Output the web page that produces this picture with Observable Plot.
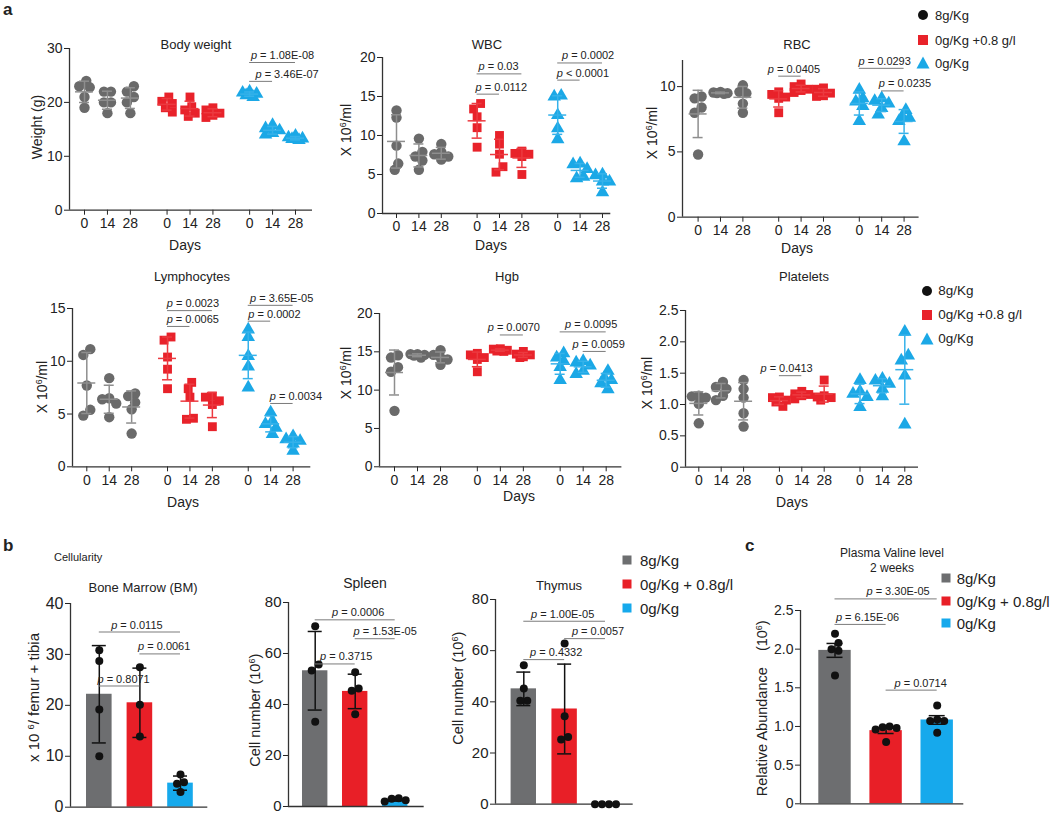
<!DOCTYPE html>
<html><head><meta charset="utf-8">
<script src="https://cdn.jsdelivr.net/npm/d3@7"></script>
<script src="https://cdn.jsdelivr.net/npm/@observablehq/plot@0.6"></script>
<style>
body{margin:0;background:#fff;font-family:"Liberation Sans",Arial,sans-serif;color:#222;}
#fig{position:relative;width:1050px;height:814px;overflow:hidden;background:#fff;}
.lab{position:absolute;white-space:nowrap;line-height:1;color:#222;}
.lab sup{font-size:0.62em;vertical-align:0.55em;line-height:0;}
</style></head>
<body><div id="fig"></div>
<script>
// ---------------- data ----------------
const groupNames = ["8g/Kg", "0g/Kg +0.8 g/l", "0g/Kg"];
const barGroupNames = ["8g/Kg", "0g/Kg + 0.8g/l", "0g/Kg"];
const days = [0, 14, 28];

// [group][day] -> individual mice
const bodyWeight = [
  [[24, 23, 22.8, 21, 19], [22, 22, 20, 20, 18], [23, 22, 21, 20, 18]],
  [[21, 20.2, 19.8, 19, 18.2], [21, 19.2, 18.6, 18, 17.4], [19, 18.6, 18, 17.6, 17.2]],
  [[22, 21.8, 21.6, 21.3, 21], [15.8, 15.2, 14.8, 14.3, 14], [13.8, 13.5, 13.3, 13.2, 13]]
];
const wbc = [
  [[13.2, 12.3, 8.7, 6.4, 5.6], [9.6, 7.9, 7.3, 6.8, 5.6], [8.9, 7.9, 7.6, 7.3, 6.9]],
  [[14.1, 13.4, 12.4, 11.0, 8.5], [10.0, 8.9, 7.6, 6.0, 5.3], [8.0, 7.7, 7.6, 7.3, 5.0]],
  [[15.1, 15.0, 12.6, 10.9, 9.5], [6.3, 6.4, 5.7, 4.7, 4.5], [5.0, 4.9, 4.1, 4.1, 2.7]]
];
const rbc = [
  [[9.24, 9.1, 8.4, 8.0, 4.8], [9.6, 9.55, 9.5, 9.5, 9.45], [10.1, 9.6, 9.5, 8.7, 8.0]],
  [[9.6, 9.4, 9.2, 9.1, 8.0], [10.2, 10.0, 9.8, 9.7, 9.55], [9.9, 9.8, 9.5, 9.3, 9.25]],
  [[9.75, 9.1, 8.85, 8.5, 7.35], [9.1, 8.9, 8.7, 8.35, 7.85], [8.2, 7.7, 7.6, 7.35, 5.8]]
];
const lymphocytes = [
  [[11.15, 10.6, 7.7, 5.4, 4.85], [8.4, 6.5, 6.4, 6.0, 4.7], [6.95, 6.7, 6.1, 5.45, 3.15]],
  [[12.3, 12.0, 10.4, 9.25, 7.4], [8.0, 7.4, 6.6, 4.6, 4.5], [6.7, 6.6, 6.25, 5.9, 3.8]],
  [[13.0, 12.3, 10.5, 9.5, 7.5], [5.15, 4.35, 4.05, 3.7, 3.1], [2.9, 2.6, 2.45, 2.2, 1.5]]
];
const hgb = [
  [[14.55, 14.25, 13.0, 12.4, 7.3], [14.7, 14.7, 14.6, 14.5, 14.25], [15.2, 14.6, 14.25, 14.0, 13.3]],
  [[14.8, 14.6, 14.25, 14.0, 12.4], [15.4, 15.35, 15.2, 15.1, 15.05], [15.05, 14.7, 14.6, 14.35, 14.25]],
  [[14.8, 14.25, 13.8, 13.0, 11.3], [13.8, 13.6, 13.2, 12.5, 12.1], [12.5, 11.65, 11.3, 10.9, 10.1]]
];
const platelets = [
  [[1.14, 1.13, 1.11, 1.01, 0.70], [1.36, 1.28, 1.25, 1.14, 1.07], [1.39, 1.25, 1.11, 0.86, 0.65]],
  [[1.12, 1.11, 1.07, 1.04, 0.97], [1.21, 1.17, 1.16, 1.14, 1.09], [1.39, 1.14, 1.12, 1.11, 1.07]],
  [[1.39, 1.21, 1.17, 1.12, 0.96], [1.41, 1.38, 1.33, 1.25, 1.13], [2.16, 1.78, 1.70, 1.46, 0.68]]
];

// [group] -> individual mice
const boneMarrow = [[30.8, 28.7, 19.2, 10.0], [27.5, 20.1, 13.9], [6.4, 4.9, 4.6, 3.0]];
const spleen = [[70.7, 55.7, 53.3, 33.2], [52.6, 46.3, 45.4, 36.2], [2.0, 3.2, 2.4, 3.0]];
const thymus = [[54.3, 45.2, 40.4, 40.4], [62.8, 34.4, 25.3, 26.3], [0, 0, 0, 0]];
const valine = [[2.2, 2.08, 2.0, 1.98, 1.66], [1.0, 0.99, 0.98, 0.96, 0.80], [1.27, 1.09, 1.07, 1.07, 0.92]];

// significance annotations (from/to = [group, dayIndex] or group index; y in data units)
const bodyWeightP = [
  {label: "p = 1.08E-08", from: [2, 0], to: [2, 2], y: 27.4, dx: 10},
  {label: "p = 3.46E-07", from: [2, 0], to: [2, 1], y: 23.9, dx: 26}
];
const wbcP = [
  {label: "p = 0.03", from: [1, 0], to: [1, 2], y: 17.9, dx: -1},
  {label: "p = 0.0112", from: [1, 0], to: [1, 1], y: 15.3, dx: 13},
  {label: "p = 0.0002", from: [2, 0], to: [2, 2], y: 19.3, dx: 8},
  {label: "p < 0.0001", from: [2, 0], to: [2, 1], y: 17.1, dx: 14}
];
const rbcP = [
  {label: "p = 0.0405", from: [1, 0], to: [1, 1], y: 10.8, dx: 4},
  {label: "p = 0.0293", from: [2, 0], to: [2, 2], y: 11.4, dx: 3},
  {label: "p = 0.0235", from: [2, 1], to: [2, 2], y: 9.67, dx: 12}
];
const lymphocytesP = [
  {label: "p = 0.0023", from: [1, 0], to: [1, 2], y: 14.8, dx: 3},
  {label: "p = 0.0065", from: [1, 0], to: [1, 1], y: 13.3, dx: 14},
  {label: "p = 3.65E-05", from: [2, 0], to: [2, 2], y: 15.3, dx: 11},
  {label: "p = 0.0002", from: [2, 0], to: [2, 1], y: 13.8, dx: 15},
  {label: "p = 0.0034", from: [2, 1], to: [2, 2], y: 6.0, dx: 14}
];
const hgbP = [
  {label: "p = 0.0070", from: [1, 1], to: [1, 2], y: 17.2, dx: 2},
  {label: "p = 0.0095", from: [2, 0], to: [2, 2], y: 17.6, dx: 8},
  {label: "p = 0.0059", from: [2, 1], to: [2, 2], y: 15.05, dx: 4}
];
const plateletsP = [
  {label: "p = 0.0413", from: [1, 0], to: [1, 1], y: 1.46, dx: -4}
];
const boneMarrowP = [
  {label: "p = 0.0115", from: 0, to: 2, y: 34.4, dx: -3},
  {label: "p = 0.0061", from: 1, to: 2, y: 30.1, dx: 4},
  {label: "p = 0.8071", from: 0, to: 1, y: 23.8, dx: 4}
];
const spleenP = [
  {label: "p = 0.0006", from: 0, to: 2, y: 73.2, dx: 3},
  {label: "p = 1.53E-05", from: 1, to: 2, y: 65.8, dx: 10},
  {label: "p = 0.3715", from: 0, to: 1, y: 55.9, dx: 11}
];
const thymusP = [
  {label: "p = 1.00E-05", from: 0, to: 2, y: 71.5, dx: -2},
  {label: "p = 0.4332", from: 0, to: 1, y: 56.5, dx: 12},
  {label: "p = 0.0057", from: 1, to: 2, y: 64.7, dx: 13}
];
const valineP = [
  {label: "p = 3.30E-05", from: 0, to: 2, y: 2.65, dx: 12},
  {label: "p = 6.15E-06", from: 0, to: 1, y: 2.32, dx: 7},
  {label: "p = 0.0714", from: 1, to: 2, y: 1.47, dx: 9}
];

// ---------------- styles ----------------
const FONT = '"Liberation Sans", Arial, Helvetica, sans-serif';
const scatterColors = ["#6a6a6a", "#e8222a", "#1ba8e6"];
const errColors = ["#8e8e8e", "#ec3a40", "#36b2ea"];
const barColors = ["#6d6e70", "#e81f27", "#16a9ec"];
const symbols = ["circle", "square", "triangle"];
const G = 3.6; // spacing between treatment groups in day-slot units

const fig = document.getElementById("fig");

function italicP(svg) {
  svg.querySelectorAll("text").forEach(t => {
    const s = t.textContent;
    if (/^p [=<] /.test(s)) {
      while (t.firstChild) t.removeChild(t.firstChild);
      const a = document.createElementNS("http://www.w3.org/2000/svg", "tspan");
      a.setAttribute("font-style", "italic");
      a.textContent = "p";
      const b = document.createElementNS("http://www.w3.org/2000/svg", "tspan");
      b.textContent = s.slice(1);
      t.appendChild(a); t.appendChild(b);
    }
  });
}

// deterministic horizontal spreading of overlapping points (Prism-like scatter)
function spread(vals, yk, step, thr, maxC) {
  const idx = d3.range(vals.length).sort((a, b) => vals[b] - vals[a]);
  const off = new Array(vals.length).fill(0);
  const cands = [0];
  for (let c = 1; c <= maxC; c++) cands.push(-c, c);
  const clusters = []; let cur = [];
  idx.forEach((i, j) => {
    if (j > 0 && (vals[idx[j - 1]] - vals[i]) * yk >= thr) { clusters.push(cur); cur = []; }
    cur.push(i);
  });
  clusters.push(cur);
  for (const cl of clusters) {
    const placed = [];
    for (const i of cl) {
      let best = 0, bestD = -1;
      for (const c of cands) {
        const ox = c * step;
        const dmin = placed.length ? d3.min(placed, p => Math.hypot(p.x - ox, (p.y - vals[i]) * yk)) : Infinity;
        if (dmin >= thr) { best = ox; break; }
        if (dmin > bestD + 0.01) { bestD = dmin; best = ox; }
      }
      off[i] = best; placed.push({x: best, y: vals[i]});
    }
    const xs = cl.map(i => off[i]);
    const mid = (d3.min(xs) + d3.max(xs)) / 2;
    cl.forEach(i => off[i] -= mid);
  }
  return off;
}

function mount(svg, box, ml, mt) {
  svg.style.position = "absolute";
  svg.style.left = (box.x0 - ml) + "px";
  svg.style.top = (box.yTop - mt) + "px";
  italicP(svg);
  fig.appendChild(svg);
}

const baseStyle = {background: "none", overflow: "visible", fontFamily: FONT, color: "#222"};

function scatterPanel({box, data, brackets, ymax, yticks, yfmt}) {
  const span = 2 * G + 2, k = (box.xb - box.xa) / span;
  const xmin = -(box.xa - box.x0) / k, xmax = span + (box.x1 - box.xb) / k;
  const yk = (box.y0 - box.yTop) / ymax;
  const pos = (g, d) => g * G + d;
  const ml = 45, mr = 45, mt = 60, mb = 30;
  const tickPos = [], tickLab = new Map();
  groupNames.forEach((_, g) => days.forEach((day, d) => {
    const p = pos(g, d); tickPos.push(p); tickLab.set(p.toFixed(3), String(day));
  }));
  const marks = [
    Plot.axisY({ticks: yticks, tickFormat: yfmt, tickSize: 5, tickPadding: 2, fontSize: 14, label: null}),
    Plot.axisX({ticks: tickPos, tickFormat: p => tickLab.get((+p).toFixed(3)), tickSize: 5, tickPadding: 3, fontSize: 14, label: null}),
    Plot.ruleX([xmin], {y1: 0, y2: ymax, stroke: "#333", strokeWidth: 1.3}),
    Plot.ruleY([0], {x1: xmin, x2: xmax, stroke: "#333", strokeWidth: 1.3})
  ];
  data.forEach((gd, g) => {
    const pts = [], stats = [];
    gd.forEach((vals, d) => {
      const off = spread(vals, yk, 3.5, 7, 2);
      vals.forEach((v, i) => pts.push({x: pos(g, d) + off[i] / k, y: v}));
      const m = d3.mean(vals), s = d3.deviation(vals);
      stats.push({x: pos(g, d), m, lo: m - s, hi: m + s});
    });
    marks.push(Plot.dot(pts, {x: "x", y: "y", symbol: symbols[g], r: g === 0 ? 5.2 : 5, fill: scatterColors[g]}));
    const st = {stroke: errColors[g], strokeWidth: 1.5};
    marks.push(Plot.ruleX(stats, {x: "x", y1: "lo", y2: "hi", ...st}));
    marks.push(Plot.ruleY(stats, {y: "lo", x1: d => d.x - 5 / k, x2: d => d.x + 5 / k, ...st}));
    marks.push(Plot.ruleY(stats, {y: "hi", x1: d => d.x - 5 / k, x2: d => d.x + 5 / k, ...st}));
    marks.push(Plot.ruleY(stats, {y: "m", x1: d => d.x - 9 / k, x2: d => d.x + 9 / k, ...st}));
  });
  const br = brackets.map(b => {
    const x1 = pos(...b.from), x2 = pos(...b.to);
    return {...b, x1, x2, tx: (x1 + x2) / 2 + b.dx / k};
  });
  marks.push(Plot.ruleY(br, {y: "y", x1: "x1", x2: "x2", stroke: "#7a7a7a", strokeWidth: 1}));
  marks.push(Plot.text(br, {x: "tx", y: "y", text: "label", dy: -7, fontSize: 11, fill: "#222"}));
  const svg = Plot.plot({
    width: box.x1 - box.x0 + ml + mr, height: box.y0 - box.yTop + mt + mb,
    marginLeft: ml, marginRight: mr, marginTop: mt, marginBottom: mb,
    x: {domain: [xmin, xmax]}, y: {domain: [0, ymax]},
    style: baseStyle, marks
  });
  mount(svg, box, ml, mt);
}

function barPanel({box, data, brackets, ymax, yticks, yfmt, fontSize, half, cap, sem}) {
  const k = (box.xb - box.xa) / 2;
  const xmin = -(box.xa - box.x0) / k, xmax = 2 + (box.x1 - box.xb) / k;
  const yk = (box.y0 - box.yTop) / ymax;
  const ml = 50, mr = 45, mt = 60, mb = 20;
  const bars = [], pts = [], stats = [];
  data.forEach((vals, g) => {
    const m = d3.mean(vals), s = d3.deviation(vals) / (sem ? Math.sqrt(vals.length) : 1);
    bars.push({g, x1: g - half / k, x2: g + half / k, m, fill: barColors[g]});
    stats.push({x: g, m, lo: m - s, hi: m + s});
    const off = spread(vals, yk, 7, 7, 4);
    vals.forEach((v, i) => pts.push({x: g + off[i] / k, y: v}));
  });
  const br = brackets.map(b => ({...b, x1: b.from, x2: b.to, tx: (b.from + b.to) / 2 + b.dx / k}));
  const st = {stroke: "#111", strokeWidth: 1.5};
  const marks = [
    Plot.axisY({ticks: yticks, tickFormat: yfmt, tickSize: 5, tickPadding: 2, fontSize, label: null}),
    Plot.rectY(bars, {x1: "x1", x2: "x2", y1: 0, y2: "m", fill: d => d.fill}),
    Plot.ruleX([xmin], {y1: 0, y2: ymax, stroke: "#333", strokeWidth: 1.3}),
    Plot.ruleY([0], {x1: xmin, x2: xmax, stroke: "#333", strokeWidth: 1.3}),
    Plot.ruleX(stats, {x: "x", y1: "lo", y2: "hi", ...st}),
    Plot.ruleY(stats, {y: "lo", x1: d => d.x - cap / k, x2: d => d.x + cap / k, ...st}),
    Plot.ruleY(stats, {y: "hi", x1: d => d.x - cap / k, x2: d => d.x + cap / k, ...st}),
    Plot.dot(pts, {x: "x", y: "y", r: 4, fill: "#111"}),
    Plot.ruleY(br, {y: "y", x1: "x1", x2: "x2", stroke: "#7a7a7a", strokeWidth: 1}),
    Plot.text(br, {x: "tx", y: "y", text: "label", dy: -7, fontSize: 11, fill: "#222"})
  ];
  const svg = Plot.plot({
    width: box.x1 - box.x0 + ml + mr, height: box.y0 - box.yTop + mt + mb,
    marginLeft: ml, marginRight: mr, marginTop: mt, marginBottom: mb,
    x: {domain: [xmin, xmax], axis: null}, y: {domain: [0, ymax]},
    color: {type: "identity"},
    style: baseStyle, marks
  });
  mount(svg, box, ml, mt);
}

const dec1 = d => d === 0 ? "0" : d.toFixed(1);

// ---------------- panel a ----------------
scatterPanel({box: {x0: 69, x1: 312, yTop: 48.3, y0: 210, xa: 84, xb: 295}, data: bodyWeight, brackets: bodyWeightP, ymax: 30, yticks: [0, 10, 20, 30]});
scatterPanel({box: {x0: 381.7, x1: 610, yTop: 57.3, y0: 213.3, xa: 395.7, xb: 601.7}, data: wbc, brackets: wbcP, ymax: 20, yticks: [0, 5, 10, 15, 20]});
scatterPanel({box: {x0: 681.7, x1: 918.3, yTop: 60, y0: 216.7, xa: 697.3, xb: 903.3}, data: rbc, brackets: rbcP, ymax: 12, yticks: [0, 5, 10]});
scatterPanel({box: {x0: 71.7, x1: 310, yTop: 307.7, y0: 466, xa: 86, xb: 292.3}, data: lymphocytes, brackets: lymphocytesP, ymax: 15, yticks: [0, 5, 10, 15]});
scatterPanel({box: {x0: 379.3, x1: 621.7, yTop: 312.7, y0: 466, xa: 394.3, xb: 606}, data: hgb, brackets: hgbP, ymax: 20, yticks: [0, 5, 10, 15, 20]});
scatterPanel({box: {x0: 685, x1: 918, yTop: 310, y0: 466.7, xa: 698.3, xb: 904.3}, data: platelets, brackets: plateletsP, ymax: 2.5, yticks: [0, 0.5, 1, 1.5, 2, 2.5], yfmt: dec1});

// ---------------- panels b, c ----------------
barPanel({box: {x0: 70, x1: 207.3, yTop: 603, y0: 806.7, xa: 98.8, xb: 180}, data: boneMarrow, brackets: boneMarrowP, ymax: 40, yticks: [0, 10, 20, 30, 40], fontSize: 16, half: 12.8, cap: 7});
barPanel({box: {x0: 288.3, x1: 424, yTop: 601.5, y0: 805.5, xa: 315, xb: 395}, data: spleen, brackets: spleenP, ymax: 80, yticks: [0, 20, 40, 60, 80], fontSize: 15, half: 12.7, cap: 7});
barPanel({box: {x0: 495, x1: 632.7, yTop: 599.3, y0: 804, xa: 523.3, xb: 605}, data: thymus, brackets: thymusP, ymax: 80, yticks: [0, 20, 40, 60, 80], fontSize: 15, half: 12.7, cap: 7});
barPanel({box: {x0: 800, x1: 963.3, yTop: 610, y0: 803.3, xa: 834.5, xb: 936.7}, data: valine, brackets: valineP, ymax: 2.5, yticks: [0, 0.5, 1, 1.5, 2, 2.5], yfmt: dec1, fontSize: 14, half: 16.2, cap: 8, sem: true});

// ---------------- text ----------------
function label(html, x, y, {size = 13, anchor = "middle", rotate = false, weight = "normal"} = {}) {
  const el = document.createElement("div");
  el.className = "lab";
  el.innerHTML = html;
  el.style.left = x + "px";
  el.style.top = y + "px";
  el.style.fontSize = size + "px";
  el.style.fontWeight = weight;
  const tx = anchor === "middle" ? "-50%" : "0";
  el.style.transform = `translate(${tx},-50%)`;
  fig.appendChild(el);
  if (rotate) {
    const w = el.offsetWidth, h = el.offsetHeight;
    el.style.transform = "rotate(-90deg)";
    el.style.transformOrigin = "center center";
    el.style.left = (x - w / 2) + "px";
    el.style.top = (y - h / 2) + "px";
  }
  return el;
}
const ylab = "X 10<sup>6</sup>/ml";

label("a", 3, 9, {size: 17, anchor: "start", weight: "bold"});
label("Body weight", 196, 43.5);
label("WBC", 487, 44);
label("RBC", 797, 43.5);
label("Lymphocytes", 192, 276);
label("Hgb", 507, 276);
label("Platelets", 804, 276);
[[185, 245], [491, 245], [797, 248], [183, 502], [519, 496], [792, 502]].forEach(([x, y]) => label("Days", x, y, {size: 14}));
label("Weight (g)", 37, 127, {size: 14, rotate: true});
label(ylab, 346, 130, {size: 14, rotate: true});
label(ylab, 652, 133, {size: 14, rotate: true});
label(ylab, 42, 387, {size: 14, rotate: true});
label(ylab, 346, 373, {size: 14, rotate: true});
label(ylab, 647, 383, {size: 14, rotate: true});

label("b", 3, 545, {size: 17, anchor: "start", weight: "bold"});
label("Cellularity", 54, 557, {size: 11, anchor: "start"});
label("Bone Marrow (BM)", 143, 587);
label("Spleen", 365, 583, {size: 14});
label("Thymus", 559, 585);
label("x 10 <sup>6</sup>/ femur + tibia", 33, 697, {size: 15, rotate: true});
label("Cell number (10<sup>6</sup>)", 255, 710, {size: 14.5, rotate: true});
label("Cell number (10<sup>6</sup>)", 458, 688, {size: 14.5, rotate: true});

label("c", 745, 545, {size: 17, anchor: "start", weight: "bold"});
label("Plasma Valine level", 892, 553, {size: 12});
label("2 weeks", 892, 568, {size: 12});
label("Relative Abundance&nbsp;&nbsp;&nbsp;&nbsp;(10<sup>6</sup>)", 762, 708, {size: 14.5, rotate: true});

// legends
function marker(shape, color, cx, cy) {
  const s = 16;
  const el = document.createElementNS("http://www.w3.org/2000/svg", "svg");
  el.setAttribute("width", s); el.setAttribute("height", s);
  el.style.position = "absolute"; el.style.left = (cx - s / 2) + "px"; el.style.top = (cy - s / 2) + "px";
  let inner;
  if (shape === "circle") inner = `<circle cx="8" cy="8" r="5" fill="${color}"/>`;
  else if (shape === "square") inner = `<rect x="3" y="3" width="10" height="10" fill="${color}"/>`;
  else if (shape === "sq") inner = `<rect x="3.5" y="3.5" width="9" height="9" fill="${color}"/>`;
  else inner = `<path d="M8,1.5 L14.5,13.5 L1.5,13.5 Z" fill="${color}"/>`;
  el.innerHTML = inner;
  fig.appendChild(el);
}
const legendA = [{x: 923.3, tx: 935, ys: [15, 40, 63.3], size: 13}, {x: 926.7, tx: 938.3, ys: [290.7, 315, 339.3], size: 13.5}];
legendA.forEach(L => {
  groupNames.forEach((n, g) => {
    marker(symbols[g], g === 0 ? "#111" : scatterColors[g], L.x, L.ys[g]);
    label(n, L.tx, L.ys[g], {size: L.size, anchor: "start"});
  });
});
const legendB = [{x: 626.7, tx: 640, ys: [560, 584, 608.3]}, {x: 945.8, tx: 956.7, ys: [578.3, 601, 623.3]}];
legendB.forEach(L => {
  barGroupNames.forEach((n, g) => {
    marker("sq", barColors[g], L.x, L.ys[g]);
    label(n, L.tx, L.ys[g], {size: 15, anchor: "start"});
  });
});
</script>
</body></html>
